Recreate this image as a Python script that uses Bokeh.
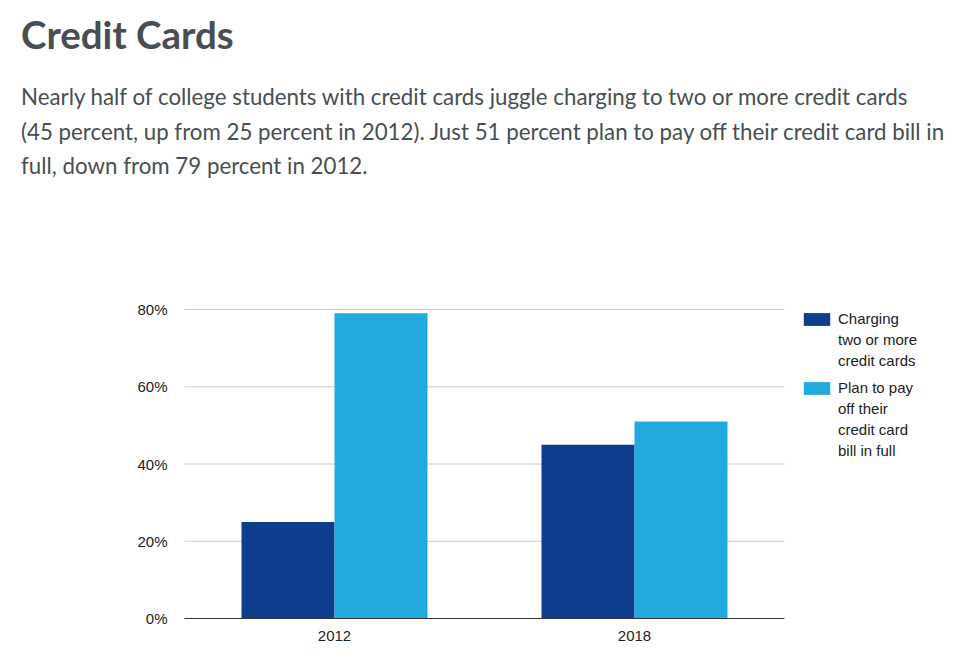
from bokeh.plotting import figure
from bokeh.models import (ColumnDataSource, Range1d, FixedTicker,
                          PrintfTickFormatter, Legend, LegendItem, Div)
from bokeh.layouts import column
from bokeh.embed import file_html
from bokeh.resources import INLINE

years = ["2012", "2018"]
charging_two_or_more = [25, 45]
plan_to_pay_in_full = [79, 51]
series_a_label_lines = ["Charging", "two or more", "credit cards"]
series_b_label_lines = ["Plan to pay", "off their", "credit card", "bill in full"]
y_ticks = [0, 20, 40, 60, 80]

title = "Credit Cards"
subtitle = ("Nearly half of college students with credit cards juggle charging to two or more credit cards<br>"
            "(45 percent, up from 25 percent in 2012). Just 51 percent plan to pay off their credit card bill in<br>"
            "full, down from 79 percent in 2012.")

DARK = "#0f3d8d"
LIGHT = "#22aadf"

header = Div(
    text=(
        '<div style="font-family:Lato;color:#474f52;padding-left:16px;">'
        f'<div style="font-size:38.5px;font-weight:bold;line-height:44px;margin-top:7px;white-space:nowrap;">{title}</div>'
        f'<div style="font-size:22.3px;line-height:34.5px;margin-top:24px;white-space:nowrap;">{subtitle}</div>'
        '</div>'
    ),
    width=944, height=240,
)

# category slots: each year occupies one unit on the x scale
n = len(years)
centers = [i + 0.5 for i in range(n)]
source = ColumnDataSource(dict(
    xa=[c - 0.155 for c in centers], xb=[c + 0.155 for c in centers],
    a=charging_two_or_more, b=plan_to_pay_in_full))

p = figure(x_range=Range1d(0, n * 760 / 600), y_range=Range1d(0, 80.26),
           width=952, height=403, output_backend="svg", toolbar_location=None,
           min_border_left=184, min_border_right=8, min_border_top=58, min_border_bottom=35)
p.outline_line_color = None

# horizontal gridlines spanning only the category area
grid_y = y_ticks[1:]
p.segment(x0=[0] * len(grid_y), x1=[n] * len(grid_y), y0=grid_y, y1=grid_y,
          line_color="#cccccc", line_width=1)

r1 = p.vbar(x="xa", top="a", width=0.31, source=source, fill_color=DARK, line_color=None)
r2 = p.vbar(x="xb", top="b", width=0.31, source=source, fill_color=LIGHT, line_color=None)

p.yaxis.ticker = FixedTicker(ticks=y_ticks)
p.yaxis.formatter = PrintfTickFormatter(format="%d%%")
p.yaxis.axis_line_color = None
p.yaxis.major_tick_line_color = None
p.yaxis.minor_tick_line_color = None
p.yaxis.major_tick_out = 0
p.yaxis.major_tick_in = 0
p.yaxis.major_label_standoff = 17
p.yaxis.major_label_text_font = "Liberation Sans"
p.yaxis.major_label_text_font_size = "15px"
p.yaxis.major_label_text_color = "#222222"

p.xaxis.ticker = FixedTicker(ticks=centers)
p.xaxis.major_label_overrides = {c: y for c, y in zip(centers, years)}
p.xaxis.bounds = (0, n)
p.xaxis.axis_line_color = "#333333"
p.xaxis.axis_line_width = 1
p.xaxis.major_tick_line_color = None
p.xaxis.minor_tick_line_color = None
p.xaxis.major_tick_out = 0
p.xaxis.major_tick_in = 0
p.xaxis.major_label_standoff = 12
p.xaxis.major_label_text_font = "Liberation Sans"
p.xaxis.major_label_text_font_size = "15px"
p.xaxis.major_label_text_color = "#222222"

p.xgrid.grid_line_color = None
p.ygrid.grid_line_color = None


def make_legend(lines, renderer, loc):
    items = [LegendItem(label=lines[0], renderers=[renderer])]
    items += [LegendItem(label=t, renderers=[]) for t in lines[1:]]
    return Legend(items=items, location=loc, orientation="vertical",
                  glyph_width=33, glyph_height=16, label_height=21, label_standoff=5,
                  padding=0, margin=0, spacing=0,
                  label_text_font="Liberation Sans", label_text_font_size="15px",
                  label_text_color="#222222",
                  border_line_color=None, background_fill_alpha=0)


p.add_layout(make_legend(series_a_label_lines, r1, (616, 247)))
p.add_layout(make_legend(series_b_label_lines, r2, (616, 157)))

layout = column(header, p, spacing=0)
open("out.html", "w").write(file_html(layout, INLINE))
